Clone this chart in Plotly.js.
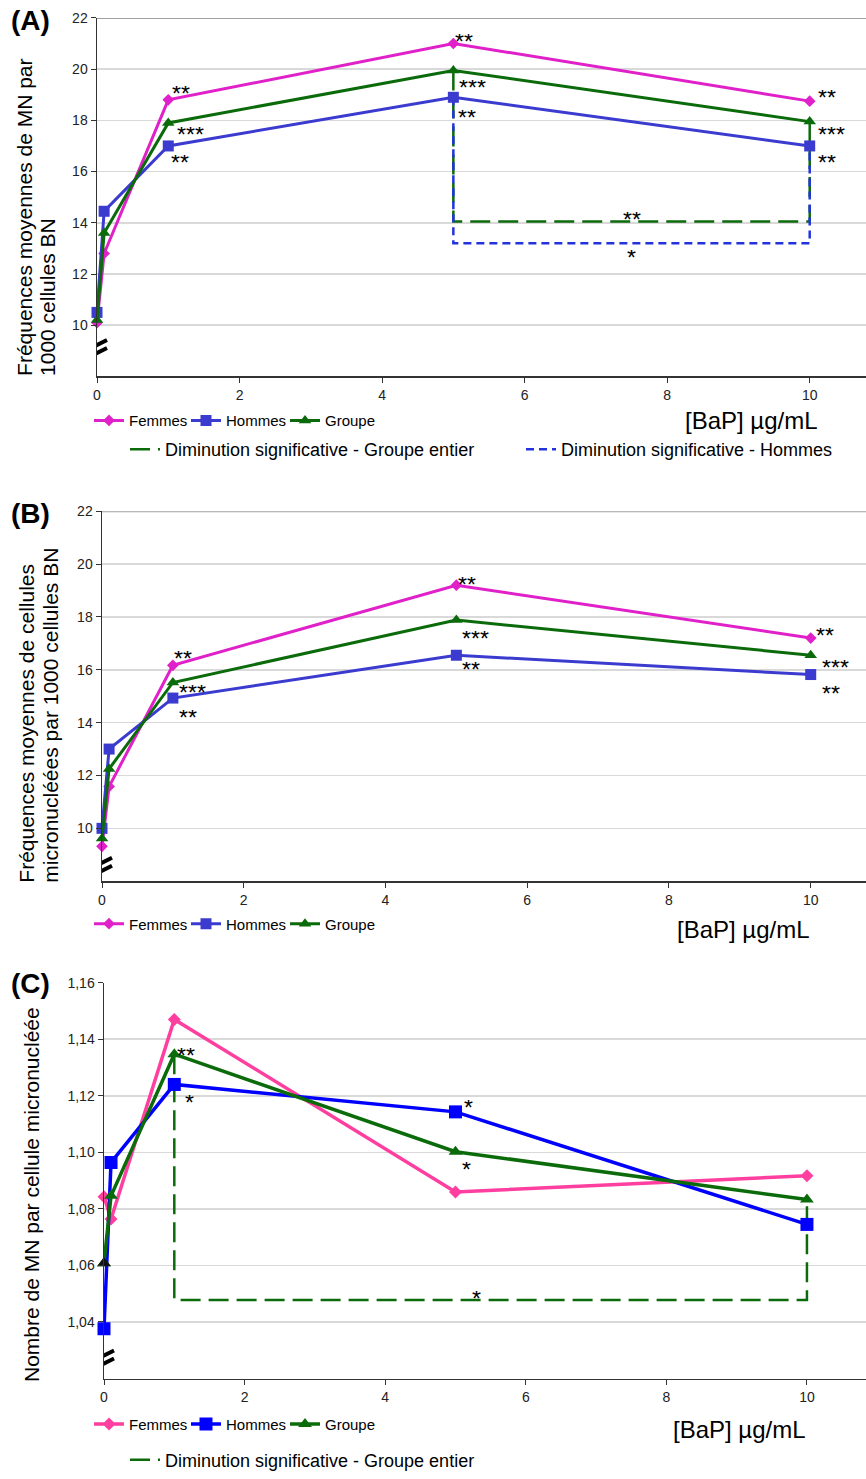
<!DOCTYPE html>
<html>
<head>
<meta charset="utf-8">
<script src="https://cdn.plot.ly/plotly-3.0.1.min.js"></script>
<style>html,body{margin:0;padding:0;background:#fff;}#chart{width:866px;height:1479px;}</style>
</head>
<body>
<div id="chart"></div>
<script>
// ---------- DATA ----------
const doses = [0, 0.1, 1, 5, 10];

// Panel A : Fréquences moyennes de MN par 1000 cellules BN
const femmesA = [10.1, 12.8, 18.8, 21.0, 18.75];
const hommesA = [10.5, 14.45, 17.0, 18.9, 17.0];
const groupeA = [10.2, 13.6, 17.9, 19.95, 17.95];
const sigFemmesA = ['', '', '**', '**', '**'];
const sigHommesA = ['', '', '**', '**', '**'];
const sigGroupeA = ['', '', '***', '***', '***'];
const bracketGroupeA = {from: 5, to: 10, level: 14.05, sig: '**'};
const bracketHommesA = {from: 5, to: 10, level: 13.2, sig: '*'};

// Panel B : Fréquences moyennes de cellules micronucléées par 1000 cellules BN
const femmesB = [9.32, 11.58, 16.17, 19.2, 17.2];
const hommesB = [10.0, 13.0, 14.93, 16.55, 15.82];
const groupeB = [9.62, 12.25, 15.52, 17.88, 16.55];
const sigFemmesB = ['', '', '**', '**', '**'];
const sigHommesB = ['', '', '**', '**', '**'];
const sigGroupeB = ['', '', '***', '***', '***'];

// Panel C : Nombre de MN par cellule micronucléée
const femmesC = [1.0843, 1.0764, 1.147, 1.086, 1.0917];
const hommesC = [1.0376, 1.0964, 1.124, 1.1143, 1.0745];
const groupeC = [1.0608, 1.0846, 1.1347, 1.1002, 1.0833];
const sigFemmesC = ['', '', '', '', ''];
const sigHommesC = ['', '', '*', '*', ''];
const sigGroupeC = ['', '', '**', '*', ''];
const bracketGroupeC = {from: 1, to: 10, level: 1.0478, sig: '*'};

const yTicksAB = [10, 12, 14, 16, 18, 20, 22];
const yTicksC = [1.04, 1.06, 1.08, 1.10, 1.12, 1.14, 1.16];
const xTicks = [0, 2, 4, 6, 8, 10];
const xLabel = '[BaP] µg/mL';
const legendBracketGroupe = 'Diminution significative - Groupe entier';
const legendBracketHommes = 'Diminution significative - Hommes';
const titleA = ['Fréquences moyennes de MN par', '1000 cellules BN'];
const titleB = ['Fréquences moyennes de cellules', 'micronucléées par 1000 cellules BN'];
const titleC = ['Nombre de MN par cellule micronucléée'];

// ---------- STYLE ----------
const FONT = 'Liberation Sans, Arial, sans-serif';
const colAB = {Femmes: '#e020c8', Hommes: '#3b3bd0', Groupe: '#0b6b0b'};
const colC = {Femmes: '#ff3fa0', Hommes: '#0000ff', Groupe: '#0b6b0b'};
const sym = {Femmes: 'diamond', Hommes: 'square', Groupe: 'triangle-up'};
const legW = {Femmes: 52, Hommes: 54, Groupe: 0};
const W = 866, H = 1479;
const px = v => v / W;
const py = v => 1 - v / H;

const traces = [];
function addSeries(vals, name, xa, ya, colors, lw, msz, legendId) {
  traces.push({
    x: doses, y: vals, name: name, type: 'scatter', mode: 'lines+markers',
    xaxis: xa, yaxis: ya, legend: legendId, legendwidth: legW[name] || undefined, cliponaxis: false,
    line: {color: colors[name], width: lw},
    marker: {symbol: sym[name], size: msz[name], color: colors[name]},
    hoverinfo: 'skip'
  });
}
function addBracket(series, br, name, xa, ya, color, dash, legendId, lwidth) {
  const i0 = doses.indexOf(br.from), i1 = doses.indexOf(br.to);
  traces.push({
    x: [br.from, br.from, br.to, br.to],
    y: [series[i0], br.level, br.level, series[i1]],
    name: name, type: 'scatter', mode: 'lines', xaxis: xa, yaxis: ya,
    legend: legendId, legendwidth: lwidth || undefined, cliponaxis: false,
    line: {color: color, width: 2.5, dash: dash}, hoverinfo: 'skip'
  });
}

const mszAB = {Femmes: 9, Hommes: 11, Groupe: 11};
const mszC = {Femmes: 10, Hommes: 13, Groupe: 12};

addBracket(groupeA, bracketGroupeA, legendBracketGroupe, 'x', 'y', colAB.Groupe, '20px,8px', 'legend2', 351);
addBracket(hommesA, bracketHommesA, legendBracketHommes, 'x', 'y', '#2233dd', '8px,5px', 'legend2');
addSeries(femmesA, 'Femmes', 'x', 'y', colAB, 3, mszAB, 'legend');
addSeries(hommesA, 'Hommes', 'x', 'y', colAB, 3, mszAB, 'legend');
addSeries(groupeA, 'Groupe', 'x', 'y', colAB, 3, mszAB, 'legend');

addSeries(femmesB, 'Femmes', 'x2', 'y2', colAB, 3, mszAB, 'legend3');
addSeries(hommesB, 'Hommes', 'x2', 'y2', colAB, 3, mszAB, 'legend3');
addSeries(groupeB, 'Groupe', 'x2', 'y2', colAB, 3, mszAB, 'legend3');

addBracket(groupeC, bracketGroupeC, legendBracketGroupe, 'x3', 'y3', colC.Groupe, '20px,8px', 'legend5');
addSeries(femmesC, 'Femmes', 'x3', 'y3', colC, 3.5, mszC, 'legend4');
addSeries(hommesC, 'Hommes', 'x3', 'y3', colC, 3.5, mszC, 'legend4');
addSeries(groupeC, 'Groupe', 'x3', 'y3', colC, 3.5, mszC, 'legend4');
// control point (dose 0) of the group drawn in black, as in the original
traces.push({x: [doses[0]], y: [groupeC[0]], type: 'scatter', mode: 'markers', xaxis: 'x3', yaxis: 'y3',
  showlegend: false, cliponaxis: false, marker: {symbol: 'triangle-up', size: mszC.Groupe, color: '#111'}, hoverinfo: 'skip'});

// ---------- AXES ----------
function xAxis(domain, range, anchor) {
  return {
    domain: domain, range: range, anchor: anchor, tickvals: xTicks,
    showgrid: false, zeroline: false, showline: true, linecolor: '#333', linewidth: 1.5,
    ticks: 'outside', ticklen: 5, tickcolor: '#333',
    tickfont: {family: FONT, size: 14, color: '#222'}, fixedrange: true
  };
}
function yAxis(domain, range, anchor, tickvals, fmt) {
  return {
    domain: domain, range: range, anchor: anchor, tickvals: tickvals, tickformat: fmt,
    showgrid: true, gridcolor: '#d9d9d9', gridwidth: 1.5, zeroline: false,
    showline: true, linecolor: '#333', linewidth: 1.5,
    ticks: 'outside', ticklen: 5, tickcolor: '#333',
    tickfont: {family: FONT, size: 14, color: '#222'}, fixedrange: true
  };
}

// ---------- ANNOTATIONS ----------
const ann = [];
const starFont = {family: FONT, size: 23, color: '#000'};
const STAR_BASE = -6;
function star(xa, ya, x, y, text, dx, dy) {
  if (!text) return;
  ann.push({xref: xa, yref: ya, x: x, y: y, text: text, showarrow: false, height: 16,
    xshift: dx, yshift: dy + STAR_BASE, font: starFont, xanchor: 'center', yanchor: 'middle'});
}
function stars(xa, ya, vals, sigs, offs) {
  doses.forEach((d, i) => { if (sigs[i]) star(xa, ya, d, vals[i], sigs[i], offs[i][0], offs[i][1]); });
}
const off0 = [0, 0];
stars('x', 'y', femmesA, sigFemmesA, [off0, off0, [13, 12], [11, 8], [17, 9]]);
stars('x', 'y', groupeA, sigGroupeA, [off0, off0, [22, -6], [19, -12], [22, -7]]);
stars('x', 'y', hommesA, sigHommesA, [off0, off0, [12, -11], [14, -15], [17, -11]]);
star('x', 'y', (bracketGroupeA.from + bracketGroupeA.to) / 2, bracketGroupeA.level, bracketGroupeA.sig, 0, 8);
star('x', 'y', (bracketHommesA.from + bracketHommesA.to) / 2, bracketHommesA.level, bracketHommesA.sig, 0, -9);

stars('x2', 'y2', femmesB, sigFemmesB, [off0, off0, [10, 12], [11, 6], [14, 8]]);
stars('x2', 'y2', groupeB, sigGroupeB, [off0, off0, [20, -5], [19, -13], [25, -7]]);
stars('x2', 'y2', hommesB, sigHommesB, [off0, off0, [15, -14], [15, -9], [20, -13]]);

stars('x3', 'y3', groupeC, sigGroupeC, [off0, off0, [12, 4], [11, -12], off0]);
stars('x3', 'y3', hommesC, sigHommesC, [off0, off0, [15, -13], [13, 10], off0]);
star('x3', 'y3', 5.3, bracketGroupeC.level, bracketGroupeC.sig, 0, 7);

// panel letters
[['(A)', 21], ['(B)', 516], ['(C)', 989]].forEach(([t, yy]) => {
  ann.push({xref: 'paper', yref: 'paper', x: px(9), y: py(yy), text: '<b>' + t + '</b>',
    showarrow: false, xanchor: 'left', yanchor: 'middle', font: {family: FONT, size: 28, color: '#000'}});
});
// x labels
[[820, 423], [812, 935], [808, 1437]].forEach(([xx, yy]) => {
  ann.push({xref: 'paper', yref: 'paper', x: px(xx), y: py(yy), text: xLabel, showarrow: false,
    xanchor: 'right', yanchor: 'middle', font: {family: FONT, size: 24, color: '#000'}});
});
// y titles (rotated, bottom aligned)
function yTitle(lines, xs, yBottom, size) {
  lines.forEach((t, i) => ann.push({xref: 'paper', yref: 'paper', x: px(xs[i]), y: py(yBottom),
    text: t, textangle: -90, showarrow: false, xanchor: 'center', yanchor: 'bottom',
    font: {family: FONT, size: size, color: '#000'}}));
}
yTitle(titleA, [25, 48], 380, 21);
yTitle(titleB, [27, 51], 890, 21);
yTitle(titleC, [32], 1392, 21);

// axis break marks and top frame lines
const shapes = [];
function brk(xa, ya, yv) {
  [[-1, 9], [-9, 1]].forEach(([a, b]) => shapes.push({type: 'line', xref: xa, yref: ya,
    xsizemode: 'pixel', ysizemode: 'pixel', xanchor: 0, yanchor: yv,
    x0: -10, x1: 10, y0: a, y1: b, line: {color: '#000', width: 4}}));
}
brk('x', 'y', 9.07);
brk('x2', 'y2', 8.55);
brk('x3', 'y3', 1.0267);
[['x', 'y', 22], ['x2', 'y2', 22]].forEach(([xa, ya, v]) => shapes.push({type: 'line', xref: xa + ' domain', yref: ya,
  x0: 0, x1: 1, y0: v, y1: v, line: {color: '#a0a0a0', width: 2}, layer: 'below'}));

const legendBase = {orientation: 'h', xanchor: 'left', yanchor: 'middle', bgcolor: 'rgba(0,0,0,0)',
  borderwidth: 0, itemclick: false, itemdoubleclick: false};
const fontRow1 = {family: FONT, size: 15, color: '#000'};
const fontRow2 = {family: FONT, size: 18, color: '#000'};
const layout = {
  width: W, height: H, margin: {l: 0, r: 0, t: 0, b: 0},
  paper_bgcolor: '#fff', plot_bgcolor: '#fff', separators: ',.',
  showlegend: true, hovermode: false,
  xaxis: xAxis([px(97), 1], [0, 10.79], 'y'),
  yaxis: yAxis([1 - 378.5 / H, 1 - 18 / H], [8, 22], 'x', yTicksAB, ''),
  xaxis2: xAxis([px(102), 1], [0, 10.78], 'y2'),
  yaxis2: yAxis([1 - 886 / H, 1 - 514 / H], [8, 22], 'x2', yTicksAB, ''),
  xaxis3: xAxis([px(104), 1], [0, 10.84], 'y3'),
  yaxis3: yAxis([1 - 1386 / H, 1 - 988 / H], [1.02, 1.16], 'x3', yTicksC, '.2f'),
  legend: Object.assign({}, legendBase, {x: px(89), y: py(423), font: fontRow1}),
  legend2: Object.assign({}, legendBase, {x: px(125), y: py(452), font: fontRow2}),
  legend3: Object.assign({}, legendBase, {x: px(89), y: py(929), font: fontRow1}),
  legend4: Object.assign({}, legendBase, {x: px(89), y: py(1432), font: fontRow1}),
  legend5: Object.assign({}, legendBase, {x: px(125), y: py(1468), font: fontRow2}),
  annotations: ann, shapes: shapes
};
Plotly.newPlot('chart', traces, layout, {staticPlot: true, displayModeBar: false});
</script>
</body>
</html>
